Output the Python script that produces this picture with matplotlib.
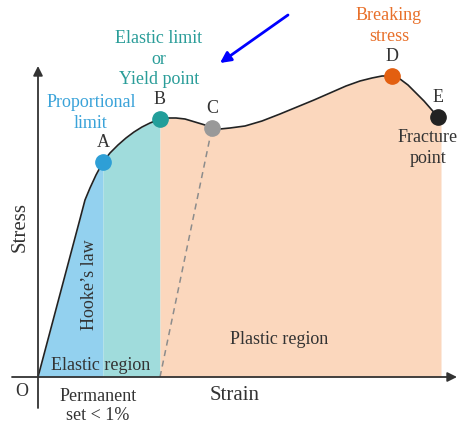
import matplotlib.pyplot as plt

# stress-strain curve (arbitrary units)
strain = [0, 42, 47, 52, 58, 65, 72, 80, 88, 96, 104, 112, 122, 130, 138,
          147, 157, 167, 174, 182, 192, 207, 224, 242, 259, 276, 292, 308,
          322, 334, 344, 354, 362, 370, 378, 386, 393, 400, 403]
stress = [0, 158, 177, 189, 202, 215, 224, 232, 239, 245, 250, 254, 258, 259,
          259, 258, 255, 252, 249, 248, 249, 251, 256, 263, 270, 277, 284, 291,
          296, 299, 301, 301, 298, 292, 284, 276, 268, 260, 256]

point_labels = ['A', 'B', 'C', 'D', 'E']
point_idx = [5, 12, 18, 31, 37]
point_colors = ['#2e9fd6', '#229e9a', '#999999', '#e35f10', '#222222']

set_strain = 122  # permanent set, where the unloading line meets the axis

plt.rcParams['font.family'] = ['Liberation Serif', 'DejaVu Serif']
dark = '#333333'

fig = plt.figure(figsize=(4.57, 4.25), dpi=100)
ax = fig.add_axes([0, 0, 1, 1])
ax.set_xlim(-38, 419)
ax.set_ylim(-48, 377)
ax.axis('off')

iA, iB = point_idx[0], point_idx[1]
ax.fill_between(strain[:iA + 1], stress[:iA + 1], color='#93d1ef', lw=0)
ax.fill_between(strain[iA:iB + 1], stress[iA:iB + 1], color='#a0dcdc', lw=0)
ax.fill_between(strain[iB:], stress[iB:], color='#fbd7bd', lw=0)

ax.plot(strain, stress, color='#222222', lw=1.2, solid_joinstyle='round')

# unloading line from C
c = point_idx[2]
ax.plot([set_strain, strain[c]], [0, stress[c]], color='#8c8c8c', lw=1.1,
        dashes=(4, 3))

# axes with arrows
arrow = dict(arrowstyle='-|>', color=dark, lw=1.3, mutation_scale=14,
             shrinkA=0, shrinkB=0)
ax.annotate('', xy=(0, 311), xytext=(0, -31), arrowprops=arrow)
ax.annotate('', xy=(419, 0), xytext=(-26, 0), arrowprops=arrow)

for lab, i, col in zip(point_labels, point_idx, point_colors):
    ax.plot(strain[i], stress[i], 'o', ms=11, color=col, zorder=5)
    ax.text(strain[i], stress[i] + 20, lab, ha='center', va='center',
            fontsize=13, color=dark)

fs = 13
ls = 1.25
ax.text(121, 318, 'Elastic limit\nor\nYield point', ha='center', va='center',
        fontsize=fs, color='#2a9d99', linespacing=ls)
ax.text(53, 264, 'Proportional\nlimit', ha='center', va='center',
        fontsize=fs, color='#3aa3d9', linespacing=ls)
ax.text(351, 351, 'Breaking\nstress', ha='center', va='center',
        fontsize=fs, color='#e8702a', linespacing=ls)
ax.text(390, 229, 'Fracture\npoint', ha='center', va='center',
        fontsize=fs, color=dark, linespacing=ls)
ax.text(52, 92, "Hooke\u2019s law", rotation=90, ha='center', va='center',
        fontsize=fs, color=dark)
ax.text(63, 12, 'Elastic region', ha='center', va='center',
        fontsize=fs, color=dark)
ax.text(241, 37, 'Plastic region', ha='center', va='center',
        fontsize=fs, color=dark)
ax.text(-16, -15, 'O', ha='center', va='center', fontsize=fs, color=dark)
ax.text(60, -29, 'Permanent\nset < 1%', ha='center', va='center',
        fontsize=fs, color=dark, linespacing=1.15)
ax.text(197, -19, 'Strain', ha='center', va='center', fontsize=15, color=dark)
ax.text(-18, 150, 'Stress', rotation=90, ha='center', va='center',
        fontsize=15, color=dark)

# blue pointer towards the yield point
ax.annotate('', xy=(182, 314), xytext=(250, 362),
            arrowprops=dict(arrowstyle='-|>', color='#0000ff', lw=2,
                            mutation_scale=16, shrinkA=0, shrinkB=0))

fig.savefig('out.png', dpi=100)
